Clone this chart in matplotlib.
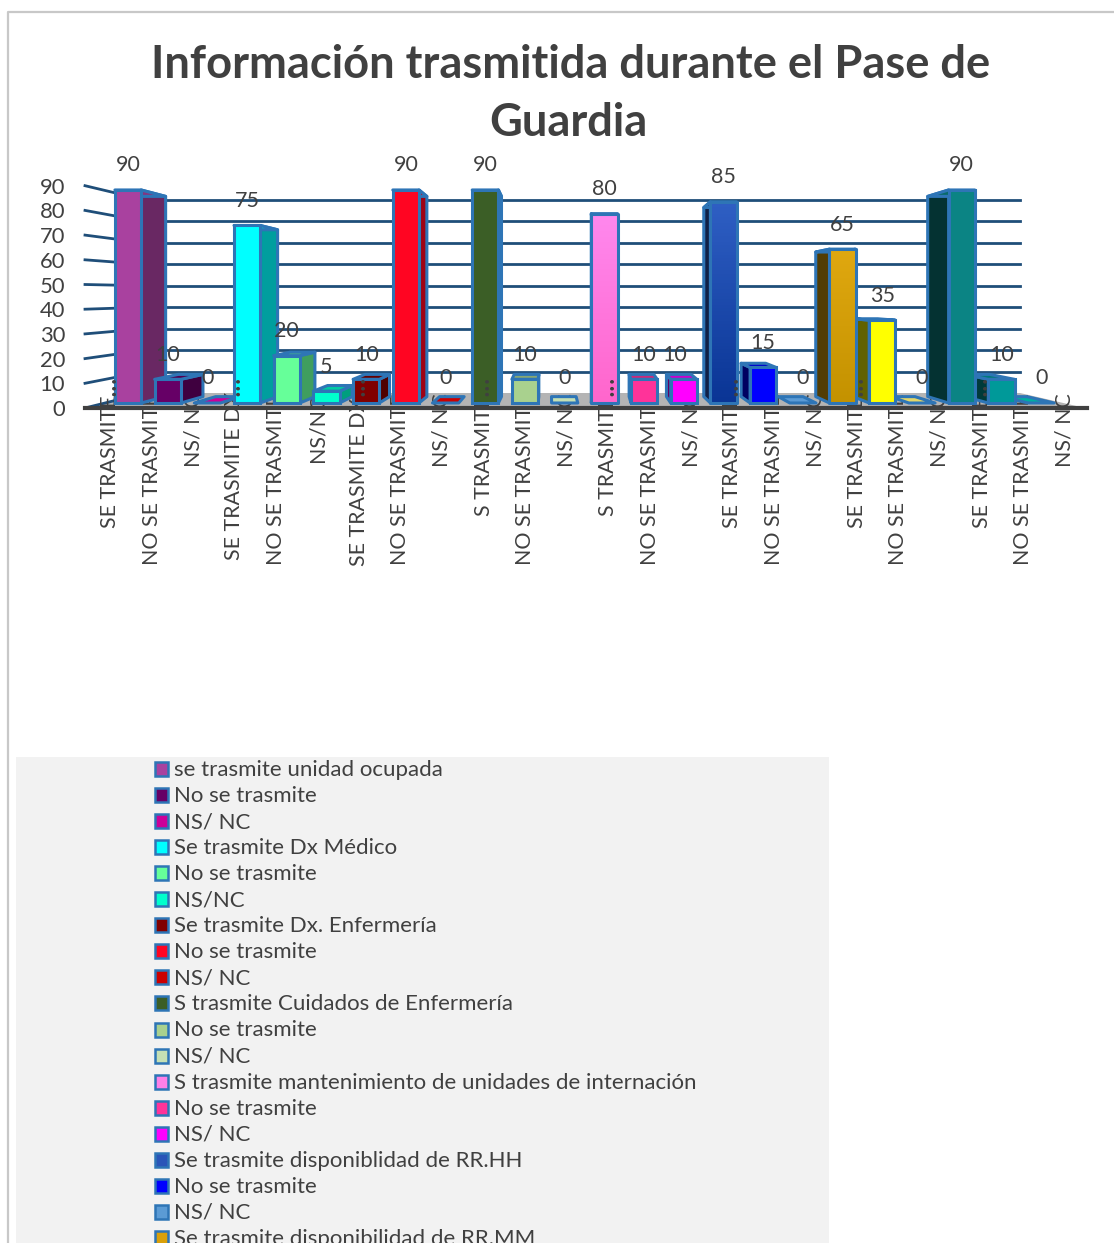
import numpy as np
import matplotlib
matplotlib.use("Agg")
import matplotlib.pyplot as plt
import matplotlib.colors as mcolors
from matplotlib.patches import Polygon, Rectangle

plt.rcParams['font.family'] = ['Lato', 'DejaVu Sans']

values = [90, 10, 0, 75, 20, 5, 10, 90, 0, 90, 10, 0, 80, 10, 10, 85, 15, 0, 65, 35, 0, 90, 10, 0]
categories = ["SE TRASMITE", "NO SE TRASMITE", "NS/ NC", "SE TRASMITE DX", "NO SE TRASMITE", "NS/NC",
              "SE TRASMITE DX", "NO SE TRASMITE", "NS/ NC", "S TRASMITE", "NO SE TRASMITE", "NS/ NC",
              "S TRASMITE", "NO SE TRASMITE", "NS/ NC", "SE TRASMITE", "NO SE TRASMITE", "NS/ NC",
              "SE TRASMITE", "NO SE TRASMITE", "NS/ NC", "SE TRASMITE", "NO SE TRASMITE", "NS/ NC"]
colors = ["#A9419F", "#660066", "#CC0099", "#00FFFF", "#66FF99", "#00FFCC", "#800000", "#FF0522",
          "#CC0000", "#3B5E26", "#A9D18E", "#C5E0B4", "#FF80E8", "#FF3399", "#FF00FF", "#2A55B8",
          "#0000FF", "#5B9BD5", "#D9A00A", "#FFFF00", "#E3D76A", "#0B8484", "#009999", "#00B0A0"]
legend_labels = ["se trasmite unidad ocupada", "No se trasmite", "NS/ NC", "Se trasmite Dx Médico",
                 "No se trasmite", "NS/NC", "Se trasmite Dx. Enfermería", "No se trasmite", "NS/ NC",
                 "S trasmite Cuidados de Enfermería", "No se trasmite", "NS/ NC",
                 "S trasmite mantenimiento de unidades de internación", "No se trasmite", "NS/ NC",
                 "Se trasmite disponiblidad de RR.HH", "No se trasmite", "NS/ NC",
                 "Se trasmite disponibilidad de RR.MM"]
yticks = [0, 10, 20, 30, 40, 50, 60, 70, 80, 90]
gradients = {12: ("#FF66CC", "#FF88EE"), 15: ("#0A3595", "#2F5FC4"), 18: ("#C49200", "#E0A810")}

W, H = 1114, 1243
X0, XS = 128.0, 39.7     # pixel of category 0, pixels per category
Y0, YS = 403.0, 2.367    # pixel of value 0, pixels per unit
TXT = "#404040"
EDGE = "#2E75B6"
GRID = "#1F4E79"
LABEL_BOTTOM = {"SE TRASMITE": 528, "NO SE TRASMITE": 565, "NS/ NC": 467, "NS/NC": 462, "S TRASMITE": 516}


def px(x, y):
    return (x - X0) / XS, (Y0 - y) / YS


fig = plt.figure(figsize=(W / 100, H / 100), dpi=100)
ax = fig.add_axes([0, 0, 1, 1])
ax.set_xlim(px(0, 0)[0], px(W, 0)[0])
ax.set_ylim(px(0, H)[1], px(0, 0)[1])
ax.axis('off')

# outer frame and legend panel
ax.plot(*zip(px(8, H), px(8, 12), px(W, 12)), color="#C8C8C8", lw=1.6, zorder=1)
x, y = px(16, 1243)
x2, y2 = px(829, 757)
ax.add_patch(Rectangle((x, y), x2 - x, y2 - y, fc="#F2F2F2", ec="none", zorder=1))

ax.text(*px(571, 65), "Información trasmitida durante el Pase de", fontsize=32.6, fontweight='bold',
        color=TXT, ha='center', va='center')
ax.text(*px(568, 123), "Guardia", fontsize=32.6, fontweight='bold', color=TXT, ha='center', va='center')

# floor
ax.add_patch(Polygon([px(88, 408), px(1085, 408), px(1020, 393), px(145, 393)], fc="#B4B4B4", ec="none", zorder=2))

# back wall grid lines, spokes out to the value axis
for t in yticks:
    ybk = 393 - (t * 193 / 90)
    yfr = 408 - t * 2.47
    if t > 0:
        ax.plot(*zip(px(145, ybk), px(1020, ybk)), color=GRID, lw=2, zorder=3)
    ax.plot(*zip(px(85, yfr), px(145, ybk)), color=GRID, lw=2, zorder=3)
    ax.text(*px(65, yfr + 2), str(t), fontsize=15.8, color=TXT, ha='right', va='center', zorder=60)

# category labels, they run up into the floor line
for i, c in enumerate(categories):
    lx = 110 + 41.5 * i
    bottom = LABEL_BOTTOM.get(c, 560 if i == 3 else 566)
    ax.text(*px(lx, bottom), c, rotation=90, fontsize=15.4, color=TXT, ha='center', va='bottom', zorder=4)
    if i % 3 == 0:
        ax.text(*px(lx - 3, 386), "...", rotation=90, fontsize=21, color=TXT, ha='center', va='center', zorder=60)
ax.plot(*zip(px(85, 408), px(1087, 408)), color="#404040", lw=3, zorder=5)

# bars, outer ones first so nearer the middle paints over
S = 0.94
vv = px(0, 297)[1]
half = 0.33


def back(x, v, vi):
    return vi + S * (x - vi), vv + S * (v - vv)


mid = 11.5
vi_left = px(550, 0)[0]
vi_right = px(600, 0)[0]
order = [i for i in range(len(values)) if i < mid] + [i for i in range(len(values) - 1, -1, -1) if i >= mid]
z = 10
for i in order:
    v = values[i]
    left = i < mid
    vi = vi_left if left else vi_right
    col = np.array(mcolors.to_rgb(colors[i]))
    l, r = i - half, i + half
    poly_kw = dict(ec=EDGE, lw=2.2, joinstyle='round')
    if v > 0:
        sx = r if left else l
        side = col * (0.62 if left else 0.38)
        ax.add_patch(Polygon([(sx, 0), (sx, v), back(sx, v, vi), back(sx, 0, vi)], fc=side, zorder=z, **poly_kw))
    ax.add_patch(Polygon([(l, v), (r, v), back(r, v, vi), back(l, v, vi)], fc=col * (0.8 if v > 0 else 1),
                         zorder=z, **poly_kw))
    if i in gradients and v > 0:
        grad = mcolors.LinearSegmentedColormap.from_list("g", gradients[i])
        ax.imshow(np.linspace(0, 1, 64).reshape(-1, 1), extent=(l, r, 0, v), origin='lower', cmap=grad,
                  aspect='auto', zorder=z + 0.1)
        ax.add_patch(Rectangle((l, 0), r - l, v, fc='none', zorder=z + 0.2, **poly_kw))
    elif v > 0:
        ax.bar(i, v, width=2 * half, color=colors[i], edgecolor=EDGE, linewidth=2.2, zorder=z + 0.1)
    z += 1
ax.set_xlim(px(0, 0)[0], px(W, 0)[0])
ax.set_ylim(px(0, H)[1], px(0, 0)[1])

# data labels
for i, v in enumerate(values):
    shift = -0.22 if i == 14 else 0
    ax.text(i + shift, v + 10.4, str(v), fontsize=15.5, color=TXT, ha='center', va='center', zorder=60)

# legend, runs off the bottom of the picture as in the original
for i, (lab, col) in enumerate(zip(legend_labels, colors)):
    yc = 769 + 26.05 * i
    x, y = px(155, yc + 7)
    x2, y2 = px(168, yc - 7)
    ax.add_patch(Rectangle((x, y), x2 - x, y2 - y, fc=col, ec=EDGE, lw=1.8, zorder=3))
    ax.text(*px(174, yc + 1), lab, fontsize=16, color=TXT, ha='left', va='center', zorder=3)

fig.savefig("out.png", dpi=100, facecolor="white")
